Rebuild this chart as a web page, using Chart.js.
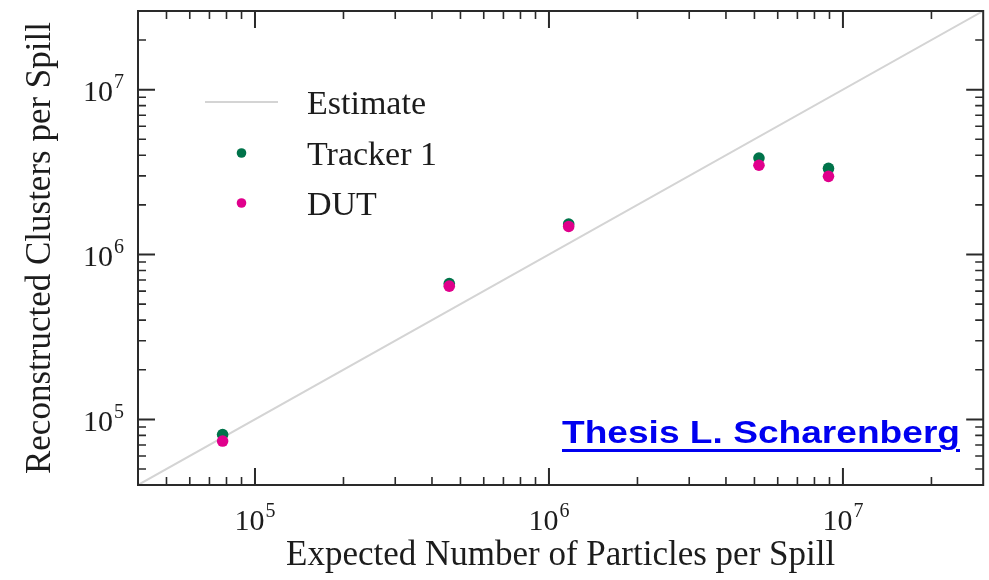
<!DOCTYPE html>
<html>
<head>
<meta charset="utf-8">
<script src="https://cdn.jsdelivr.net/npm/chart.js@4/dist/chart.umd.min.js"></script>
<style>
  html, body { margin: 0; padding: 0; background: #ffffff; }
  #wrap { position: relative; width: 989px; height: 580px; }
  #credit {
    position: absolute; left: 562px; top: 416px;
    font: bold 32px "Liberation Sans", Arial, sans-serif; line-height: 32px;
    color: #0000f0; white-space: nowrap;
    text-decoration: underline; text-decoration-thickness: 3px; text-underline-offset: 6px;
    transform-origin: left top;
  }
</style>
</head>
<body>
<div id="wrap">
  <canvas id="c" width="989" height="580"></canvas>
  <span id="credit">Thesis L. Scharenberg</span>
</div>
<script>
// Expected particles per spill (x) and reconstructed clusters per spill (y)
const expected = [7.76e4, 4.58e5, 1.167e6, 5.18e6, 8.93e6];
const tracker1 = [8.1e4, 6.67e5, 1.53e6, 3.85e6, 3.33e6];
const dut      = [7.39e4, 6.43e5, 1.48e6, 3.48e6, 2.98e6];
// Estimate: reconstructed = expected, across the full axis range
const estimateX = [4e4, 3e7];
const estimateY = [4e4, 3e7];
// Labelled decades on both axes
const decadeTicks = [1e5, 1e6, 1e7];
const axisMin = 4e4, axisMax = 3e7;

const SERIF = "'Liberation Serif', 'Times New Roman', serif";
const INK = '#1c1c1c';
const GREEN = '#00734a';
const PINK = '#e0008c';
const PLOT_RIGHT = 988;

const toPoints = (xs, ys) => xs.map((x, i) => ({ x, y: ys[i] }));

// Frame with inward ticks on all four sides, plus 10^n tick labels and the legend
const framePlugin = {
  id: 'frameTicks',
  afterDraw(chart) {
    const { ctx, chartArea: a, scales: { x, y } } = chart;
    ctx.save();
    ctx.strokeStyle = '#2a2a2a';
    ctx.lineCap = 'butt';

    const minor = [];
    for (let base = 1e4; base <= 1e7; base *= 10) {
      for (let m = 2; m <= 9; m++) {
        const v = base * m;
        if (v > axisMin && v < axisMax) minor.push(v);
      }
    }
    const drawTicks = (vals, len, width) => {
      ctx.lineWidth = width;
      ctx.beginPath();
      vals.forEach(v => {
        const px = x.getPixelForValue(v);
        ctx.moveTo(px, a.bottom); ctx.lineTo(px, a.bottom - len);
        ctx.moveTo(px, a.top); ctx.lineTo(px, a.top + len);
        const py = y.getPixelForValue(v);
        ctx.moveTo(a.left, py); ctx.lineTo(a.left + len, py);
        ctx.moveTo(a.right, py); ctx.lineTo(a.right - len, py);
      });
      ctx.stroke();
    };
    drawTicks(minor, 8, 1.6);
    drawTicks(decadeTicks, 17, 2);

    ctx.lineWidth = 2;
    ctx.strokeRect(a.left, a.top, a.right - a.left, a.bottom - a.top);

    // "10" with a raised exponent
    ctx.fillStyle = INK;
    ctx.textBaseline = 'alphabetic';
    ctx.textAlign = 'left';
    const baseFont = '30px ' + SERIF, supFont = '20px ' + SERIF;
    decadeTicks.forEach(v => {
      const exp = String(Math.round(Math.log10(v)));
      ctx.font = baseFont; const wb = ctx.measureText('10').width;
      ctx.font = supFont; const we = ctx.measureText(exp).width;
      const total = wb + 1 + we;
      // bottom axis
      const px = x.getPixelForValue(v);
      let sx = px - total / 2, by = a.bottom + 44.5;
      ctx.font = baseFont; ctx.fillText('10', sx, by);
      ctx.font = supFont; ctx.fillText(exp, sx + wb + 1, by - 13);
      // left axis
      const py = y.getPixelForValue(v);
      sx = a.left - 14 - total; by = py + 11.5;
      ctx.font = baseFont; ctx.fillText('10', sx, by);
      ctx.font = supFont; ctx.fillText(exp, sx + wb + 1, by - 13);
    });

    // Legend inside the plot area
    const lx = a.left + 103.5, tx = a.left + 169;
    const rows = [a.top + 91, a.top + 142, a.top + 192];
    ctx.font = '34px ' + SERIF;
    chart.data.datasets.forEach((ds, i) => {
      const ry = rows[i];
      if (ds.showLine) {
        ctx.strokeStyle = ds.borderColor; ctx.lineWidth = ds.borderWidth;
        ctx.beginPath(); ctx.moveTo(lx - 36.5, ry); ctx.lineTo(lx + 36.5, ry); ctx.stroke();
      } else {
        ctx.fillStyle = ds.backgroundColor;
        ctx.beginPath(); ctx.arc(lx, ry, 4.8, 0, Math.PI * 2); ctx.fill();
      }
      ctx.fillStyle = INK;
      ctx.fillText(ds.label, tx, ry + 12);
    });
    ctx.restore();
  }
};

const logAxis = (title, isX) => ({
  type: 'logarithmic',
  min: axisMin, max: axisMax,
  grid: { display: false },
  border: { display: false },
  ticks: { display: false },
  title: {
    display: true, text: title, color: INK,
    font: { family: SERIF, size: 35 },
    padding: isX ? { top: 0, bottom: 3 } : { top: 20, bottom: 0 }
  },
  afterFit(scale) { if (isX) scale.height = 95; else scale.width = 138; }
});

const chart = new Chart(document.getElementById('c'), {
  type: 'scatter',
  data: {
    datasets: [
      { label: 'Estimate', data: toPoints(estimateX, estimateY), showLine: true,
        borderColor: '#d4d4d4', borderWidth: 2, pointRadius: 0, order: 3 },
      { label: 'Tracker 1', data: toPoints(expected, tracker1),
        backgroundColor: GREEN, borderWidth: 0, pointRadius: 5.8, order: 2 },
      { label: 'DUT', data: toPoints(expected, dut),
        backgroundColor: PINK, borderWidth: 0, pointRadius: 5.8, order: 1 }
    ]
  },
  options: {
    responsive: false,
    animation: false,
    devicePixelRatio: 1,
    layout: { padding: { top: 11, right: 1, bottom: 0, left: 0 } },
    plugins: { legend: { display: false }, tooltip: { enabled: false } },
    scales: {
      x: logAxis('Expected Number of Particles per Spill', true),
      y: logAxis('Reconstructed Clusters per Spill', false)
    }
  },
  plugins: [framePlugin]
});

// Keep the plot frame's right edge at a fixed pixel column
const gap = PLOT_RIGHT - chart.chartArea.right;
if (Math.abs(gap) > 0.5) {
  chart.options.layout.padding.right -= gap;
  chart.update();
}

// Stretch the credit line to its set width
const credit = document.getElementById('credit');
credit.style.transform = 'scaleX(' + (398 / credit.getBoundingClientRect().width) + ')';
</script>
</body>
</html>
